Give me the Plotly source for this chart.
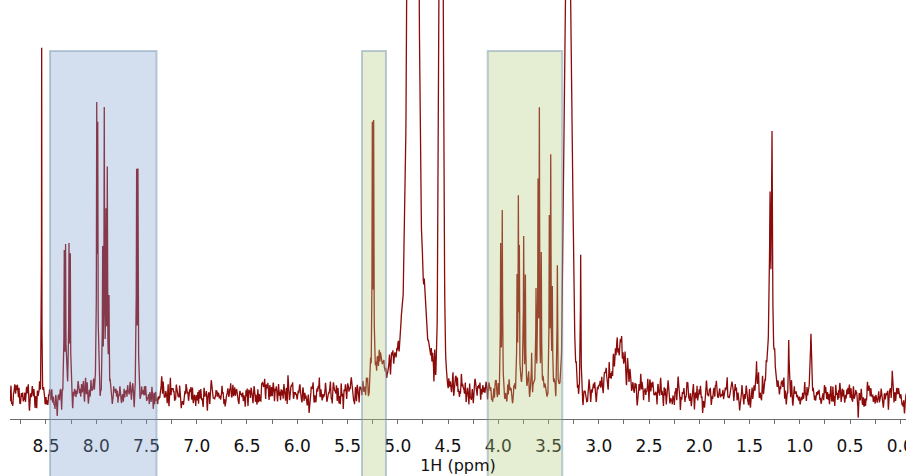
import numpy as np
import plotly.graph_objects as go

# ---- peak list (ppm, height above baseline, half-width, shape) ----
peak_ppm = [8.543, 8.318, 8.305, 8.271, 8.258,
            7.995, 7.985, 7.936, 7.920, 7.903, 7.890, 7.873,
            7.598, 7.585,
            5.253, 5.240, 5.170,
            4.848, 4.848, 4.730, 4.568,
            3.976, 3.960, 3.813, 3.800, 3.790, 3.747, 3.730, 3.697, 3.668,
            3.624, 3.604, 3.591, 3.572, 3.492, 3.478, 3.462, 3.412,
            3.302, 3.180,
            2.795,
            1.430, 1.296, 1.276, 1.290, 1.110, 0.890, 0.890, 0.080]
peak_height = [350, 140, 140, 138, 134,
               268, 250, 140, 270, 160, 212, 88,
               205, 207,
               245, 245, 26,
               1300, 157, 45, 800,
               145, 180, 112, 180, 135, 140, 118, 20, 33,
               88, 200, 275, 135, 175, 225, 102, 125,
               600, 138,
               52,
               35, 158, 225, 30, 45, 52, 12, 22]
peak_width = [0.0015, 0.003, 0.003, 0.003, 0.003,
              0.003, 0.003, 0.003, 0.003, 0.003, 0.003, 0.003,
              0.003, 0.003,
              0.003, 0.003, 0.03,
              0.035, 0.10, 0.015, 0.017,
              0.003, 0.003, 0.003, 0.003, 0.003, 0.003, 0.003, 0.003, 0.003,
              0.003, 0.003, 0.003, 0.003, 0.003, 0.003, 0.003, 0.003,
              0.030, 0.003,
              0.07,
              0.004, 0.006, 0.006, 0.04, 0.004, 0.006, 0.03, 0.003]
peak_shape = ["L"] * 17 + ["G", "L", "L", "G"] + ["L"] * 17 + ["G", "L"] + ["L"] + ["L"] * 8

# highlighted regions (ppm)
box_left = [8.46, 5.356, 4.105]
box_right = [7.40, 5.117, 3.363]
box_fill = ["rgba(120,155,205,0.33)", "rgba(175,200,120,0.33)", "rgba(175,200,120,0.33)"]

tick_vals = [8.5, 8.0, 7.5, 7.0, 6.5, 6.0, 5.5, 5.0, 4.5, 4.0, 3.5, 3.0, 2.5, 2.0, 1.5, 1.0, 0.5, 0.0]
tick_text = ["8.5", "8.0", "7.5", "7.0", "6.5", "6.0", "5.5", "5.0", "4.5", "4.0", "3.5", "3.0",
             "2.5", "2.0", "1.5", "1.0", "0.5", "0.0"]
minor_vals = [8.75, 8.25, 7.75, 7.25, 6.75, 6.25, 5.75, 5.25, 4.75, 4.25,
              3.75, 3.25, 2.75, 2.25, 1.75, 1.25, 0.75, 0.25]

x_range = [8.858, -0.057]
y_range = [-24, 395]

# ---- build spectrum on a grid that also samples every narrow line finely ----
coarse = np.arange(-0.06, 8.86, 0.002)
extra = []
for c, w in zip(peak_ppm, peak_width):
    if w < 0.02:
        extra.append(c + w * np.arange(-4, 4.01, 0.25))
ppm = np.unique(np.concatenate([coarse] + extra))

spec = np.zeros_like(ppm)
for c, h, w, s in zip(peak_ppm, peak_height, peak_width, peak_shape):
    d = ppm - c
    if s == "L":
        spec += h / (1.0 + (d / w) ** 2)
    else:
        spec += h * np.exp(-d ** 2 / (2 * w ** 2))

rng = np.random.default_rng(7)
raw = rng.normal(0, 1, coarse.size + 20)
kern = np.exp(-np.arange(-6, 7) ** 2 / (2 * 1.5 ** 2))
kern /= kern.sum()
noise_c = np.convolve(raw, kern, mode="same")[10:10 + coarse.size]
noise_c = noise_c / noise_c.std() * 6.3
spec = spec + np.interp(ppm, coarse, noise_c)

fig = go.Figure()
fig.add_trace(go.Scatter(x=ppm, y=spec, mode="lines",
                         line=dict(color="#8b0a0a", width=1.3), hoverinfo="skip"))

span = x_range[0] - x_range[1]
for l, r, f in zip(box_left, box_right, box_fill):
    fig.add_shape(type="rect", xref="paper", yref="paper",
                  x0=(x_range[0] - l) / span, x1=(x_range[0] - r) / span,
                  y0=-0.16, y1=0.878, fillcolor=f,
                  line=dict(color="rgba(110,145,170,0.45)", width=2), layer="above")

fig.update_layout(
    width=906, height=476,
    margin=dict(l=10, r=0, t=0, b=57),
    paper_bgcolor="white", plot_bgcolor="white",
    showlegend=False,
    font=dict(family="DejaVu Sans", color="#111111"),
    xaxis=dict(range=x_range, showgrid=False, zeroline=False, automargin=False,
               showline=True, linecolor="#6e6e6e", linewidth=1,
               ticks="outside", ticklen=4, tickcolor="#6e6e6e",
               tickvals=tick_vals, ticktext=tick_text,
               tickfont=dict(size=17, family="DejaVu Sans", color="#111111"),
               ticklabelstandoff=8, ticklabeloverflow="allow",
               minor=dict(tickvals=minor_vals, ticks="outside", ticklen=4, tickcolor="#6e6e6e"),
               title=dict(text="1H (ppm)", font=dict(size=16, family="DejaVu Sans", color="#111111"),
                          standoff=2)),
    yaxis=dict(range=y_range, visible=False),
)

fig.write_html("out.html")
